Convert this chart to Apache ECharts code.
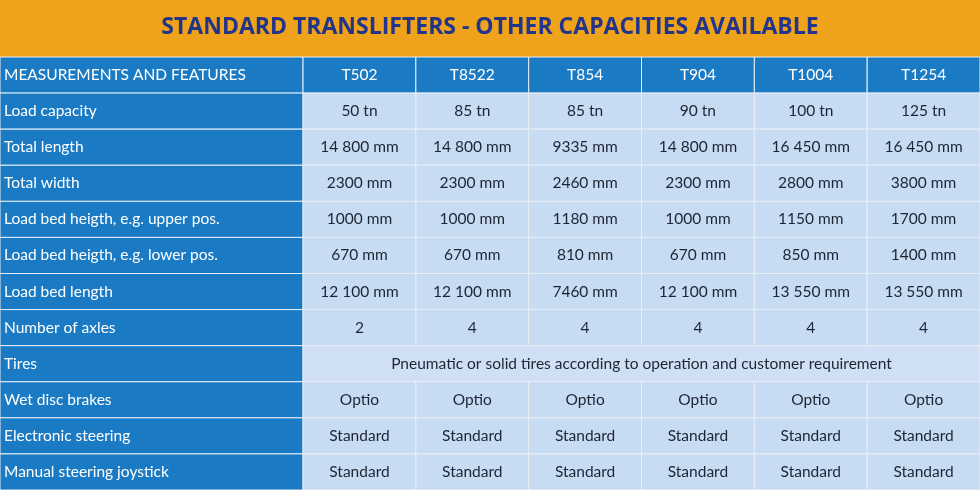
<!DOCTYPE html>
<html><head><meta charset="utf-8">
<script src="https://cdn.jsdelivr.net/npm/echarts@6/dist/echarts.min.js"></script>
<style>html,body{margin:0;padding:0;background:#fff}#main{width:980px;height:490px}</style>
</head><body><div id="main"></div>
<script>
const title = "STANDARD TRANSLIFTERS - OTHER CAPACITIES AVAILABLE";
const header = ["MEASUREMENTS AND FEATURES", "T502", "T8522", "T854", "T904", "T1004", "T1254"];
const features = ["Load capacity", "Total length", "Total width", "Load bed heigth, e.g. upper pos.",
  "Load bed heigth, e.g. lower pos.", "Load bed length", "Number of axles", "Tires",
  "Wet disc brakes", "Electronic steering", "Manual steering joystick"];
const values = [
  ["50 tn", "85 tn", "85 tn", "90 tn", "100 tn", "125 tn"],
  ["14 800 mm", "14 800 mm", "9335 mm", "14 800 mm", "16 450 mm", "16 450 mm"],
  ["2300 mm", "2300 mm", "2460 mm", "2300 mm", "2800 mm", "3800 mm"],
  ["1000 mm", "1000 mm", "1180 mm", "1000 mm", "1150 mm", "1700 mm"],
  ["670 mm", "670 mm", "810 mm", "670 mm", "850 mm", "1400 mm"],
  ["12 100 mm", "12 100 mm", "7460 mm", "12 100 mm", "13 550 mm", "13 550 mm"],
  ["2", "4", "4", "4", "4", "4"],
  ["Pneumatic or solid tires according to operation and customer requirement"],
  ["Optio", "Optio", "Optio", "Optio", "Optio", "Optio"],
  ["Standard", "Standard", "Standard", "Standard", "Standard", "Standard"],
  ["Standard", "Standard", "Standard", "Standard", "Standard", "Standard"]
];
const firstColUnits = 2.686;
const rowNames = ["header"].concat(features);

// cells: [x0, x1, row, text, kind]
const cells = [];
header.forEach((h, i) => {
  const x0 = i === 0 ? 0 : firstColUnits + i - 1;
  const x1 = i === 0 ? firstColUnits : x0 + 1;
  cells.push([x0, x1, 0, h, i === 0 ? "label" : "head"]);
});
features.forEach((f, r) => {
  cells.push([0, firstColUnits, r + 1, f, "label"]);
  const vals = values[r];
  if (vals.length === 1) {
    cells.push([firstColUnits, firstColUnits + 6, r + 1, vals[0], "merged"]);
  } else {
    vals.forEach((v, c) => cells.push([firstColUnits + c, firstColUnits + c + 1, r + 1, v, "cell"]));
  }
});

const chart = echarts.init(document.getElementById("main"));
chart.setOption({
  animation: false,
  title: {
    text: title, left: "center", top: 11,
    textStyle: { color: "#23358a", fontFamily: "Open Sans", fontWeight: "bold", fontSize: 23 }
  },
  graphic: [{ type: "rect", z: -1, shape: { x: 0, y: 0, width: 980, height: 57 }, style: { fill: "#eea31a" } }],
  grid: { left: 0, right: 0, top: 57, bottom: 0 },
  xAxis: { type: "value", min: 0, max: firstColUnits + 6, show: false },
  yAxis: { type: "category", data: rowNames, inverse: true, show: false },
  series: [{
    type: "custom",
    data: cells,
    renderItem: (params, api) => {
      const row = api.value(2);
      const p0 = api.coord([api.value(0), row]);
      const p1 = api.coord([api.value(1), row]);
      const h = api.size([0, 1])[1];
      const kind = cells[params.dataIndex][4];
      const text = cells[params.dataIndex][3];
      const blue = kind === "label" || kind === "head";
      const fill = blue ? "#1a7bc4" : (kind === "merged" ? "#cfe0f4" : "#c7dbf2");
      const left = kind === "label";
      return {
        type: "group",
        children: [
          { type: "rect", shape: { x: p0[0], y: p0[1] - h / 2, width: p1[0] - p0[0], height: h },
            style: { fill: fill, stroke: "#e8eef6", lineWidth: 1 } },
          { type: "text",
            style: {
              x: left ? p0[0] + 4 : (p0[0] + p1[0]) / 2, y: p0[1],
              text: text, align: left ? "left" : "center", verticalAlign: "middle",
              fill: blue ? "#ffffff" : "#1c2533", fontFamily: "Lato", fontSize: 15.5
            } }
        ]
      };
    }
  }]
});
window.addEventListener("resize", () => chart.resize());
</script></body></html>
